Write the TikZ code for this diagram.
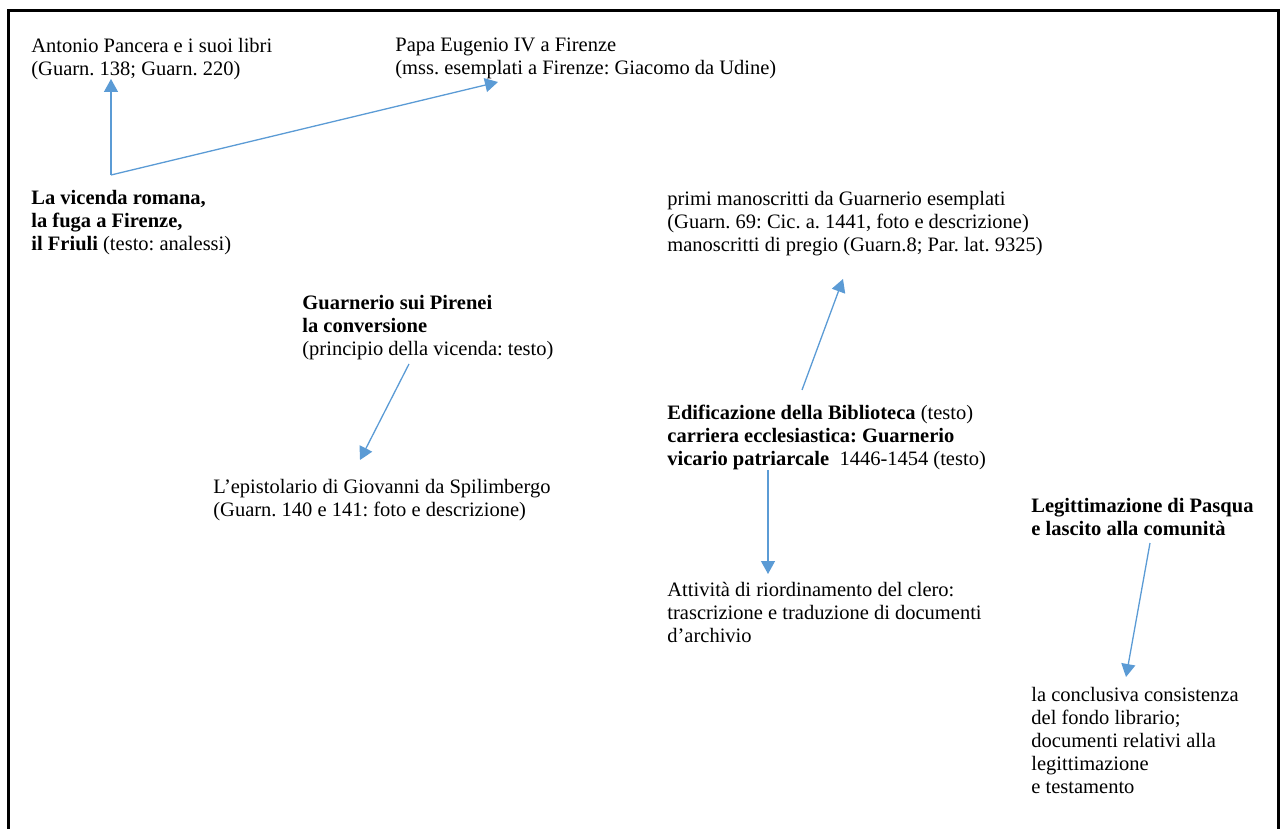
\documentclass[tikz,border=0pt]{standalone}
\usepackage{fontspec}
\setmainfont{Liberation Serif}
\usetikzlibrary{arrows.meta}
\definecolor{linkblue}{RGB}{91,155,213}
\frenchspacing

\begin{document}
\begin{tikzpicture}[
  x=0.5pt, y=-0.5pt,
  every node/.style={font=\fontsize{10.25pt}{11.5pt}\selectfont},
  txt/.style={anchor=north west, inner sep=0pt, align=left},
  link/.style={-{Triangle[length=6.5pt,width=7pt]}, linkblue, line width=0.65pt},
  frame/.style={black, line width=1.5pt}
]
\useasboundingbox (0,0) rectangle (1280,829);

% Open frame round the page.
\draw[frame] (8,829) -- (8,11) -- (1278,11) -- (1278,829);

% Roman years and Florence.
\node[txt] (pancera) at (31,38)
  {Antonio Pancera e i suoi libri\\(Guarn. 138; Guarn. 220)};
\node[txt] (eugenio) at (395,38)
  {Papa Eugenio IV a Firenze\\(mss. esemplati a Firenze: Giacomo da Udine)};
\node[txt] (roma) at (31,190)
  {\textbf{La vicenda romana,}\\\textbf{la fuga a Firenze,}\\\textbf{il Friuli} (testo: analessi)};

% Pyrenees and the letters.
\node[txt] (pirenei) at (302,295)
  {\textbf{Guarnerio sui Pirenei}\\\textbf{la conversione}\\(principio della vicenda: testo)};
\node[txt] (epistolario) at (213,479)
  {L’epistolario di Giovanni da Spilimbergo\\(Guarn. 140 e 141: foto e descrizione)};

% Library and career.
\node[txt] (primi) at (667,191)
  {primi manoscritti da Guarnerio esemplati\\(Guarn. 69: Cic. a. 1441, foto e descrizione)\\manoscritti di pregio (Guarn.8; Par. lat. 9325)};
\node[txt] (biblioteca) at (667,405)
  {\textbf{Edificazione della Biblioteca} (testo)\\\textbf{carriera ecclesiastica: Guarnerio}\\\textbf{vicario patriarcale}\ \ 1446-1454 (testo)};
\node[txt] (clero) at (667,582)
  {Attività di riordinamento del clero:\\trascrizione e traduzione di documenti\\d’archivio};

% Legitimation and bequest.
\node[txt] (pasqua) at (1031,498)
  {\textbf{Legittimazione di Pasqua}\\\textbf{e lascito alla comunità}};
\node[txt] (fondo) at (1031,687)
  {la conclusiva consistenza\\del fondo librario;\\documenti relativi alla\\legittimazione\\e testamento};

% Connectors.
\coordinate (fork) at ([shift={(80,-15)}]roma.north west);
\draw[link] (fork) -- ([shift={(80,41)}]pancera.north west);
\draw[link] (fork) -- ([shift={(103,44)}]eugenio.north west);
\draw[link] ([shift={(107,69)}]pirenei.north west) -- ([shift={(147,-19)}]epistolario.north west);
\draw[link] ([shift={(135,-15)}]biblioteca.north west) -- ([shift={(176,88)}]primi.north west);
\draw[link] ([shift={(101,65)}]biblioteca.north west) -- ([shift={(101,-8)}]clero.north west);
\draw[link] ([shift={(119,45)}]pasqua.north west) -- ([shift={(95,-10)}]fondo.north west);
\end{tikzpicture}
\end{document}
